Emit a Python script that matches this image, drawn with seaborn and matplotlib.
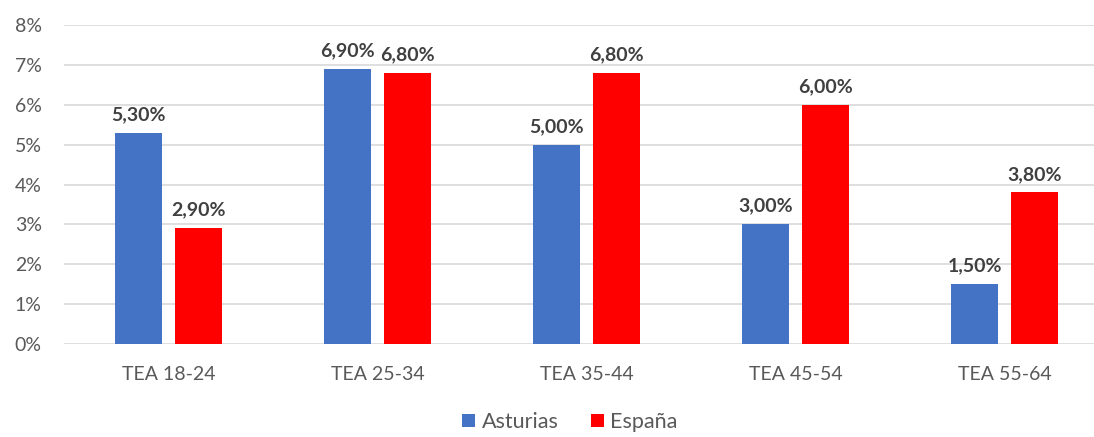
import pandas as pd
import matplotlib
matplotlib.use("Agg")
import matplotlib.pyplot as plt
import seaborn as sns
from matplotlib.patches import Patch

# Data
categories = ["TEA 18-24", "TEA 25-34", "TEA 35-44", "TEA 45-54", "TEA 55-64"]
asturias = [5.3, 6.9, 5.0, 3.0, 1.5]
espana = [2.9, 6.8, 6.8, 6.0, 3.8]
series_names = ["Asturias", "España"]
y_ticks = [0, 1, 2, 3, 4, 5, 6, 7, 8]

colors = ["#4472C4", "#FF0000"]

df = pd.DataFrame({
    "categoria": categories * 2,
    "valor": asturias + espana,
    "serie": [series_names[0]] * len(categories) + [series_names[1]] * len(categories),
})

sns.set_style("white")
plt.rcParams["font.family"] = ["Lato", "DejaVu Sans"]

fig = plt.figure(figsize=(10.94, 4.37), dpi=100)
ax = fig.add_axes([64 / 1094, 93 / 437, 1 - 64 / 1094, (344 - 25) / 437])

sns.barplot(data=df, x="categoria", y="valor", hue="serie", palette=colors,
            width=0.574, gap=0.216, ax=ax, legend=False, saturation=1,
            linewidth=0, edgecolor="none", zorder=3)

# Data labels above bars
for container in ax.containers:
    labels = [f"{v:.2f}%".replace(".", ",") for v in container.datavalues]
    ax.bar_label(container, labels=labels, padding=7, fontsize=14,
                 fontweight="bold", color="#404040")

ax.set_ylim(0, 8)
ax.set_xlim(-0.5, 4.428)
ax.set_yticks(y_ticks)
ax.set_yticklabels([f"{t}%" for t in y_ticks])
ax.yaxis.grid(True, color="#D9D9D9", linewidth=1.2, zorder=0)
ax.set_axisbelow(True)
ax.set_xlabel("")
ax.set_ylabel("")
for s in ax.spines.values():
    s.set_visible(False)
ax.tick_params(axis="both", length=0, labelsize=14, labelcolor="#595959")
ax.tick_params(axis="x", pad=16)
ax.tick_params(axis="y", pad=16)

handles = [Patch(facecolor=c, edgecolor="none") for c in colors]
fig.legend(handles, series_names, loc="center", bbox_to_anchor=(570 / 1094, 15 / 437),
           ncol=2, frameon=False, fontsize=15.5, labelcolor="#595959",
           handlelength=0.6, handleheight=0.6, handletextpad=0.3,
           columnspacing=1.5)

fig.savefig("out.png", dpi=100)
